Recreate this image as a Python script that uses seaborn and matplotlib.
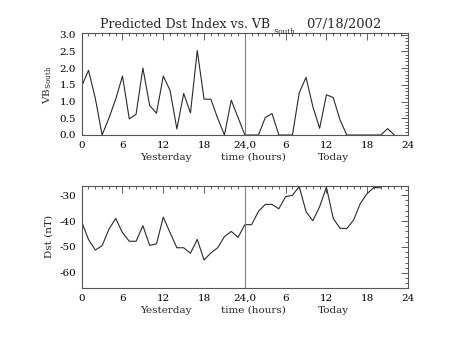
import numpy as np
import pandas as pd
import matplotlib
matplotlib.use("Agg")
import matplotlib.pyplot as plt
from matplotlib.ticker import MultipleLocator, FixedLocator
import seaborn as sns

# ---- data ----
vb_yesterday = [1.46, 1.93, 1.1, 0.0, 0.5, 1.07, 1.76, 0.48, 0.62, 2.0, 0.88, 0.65,
                1.76, 1.33, 0.18, 1.24, 0.66, 2.52, 1.07, 1.07, 0.5, 0.0, 1.04, 0.52]
vb_today = [0.0, 0.0, 0.0, 0.52, 0.64, 0.0, 0.0, 0.0, 1.26, 1.72, 0.85, 0.2,
            1.2, 1.12, 0.45, 0.0, 0.0, 0.0, 0.0, 0.0, 0.0, 0.19, 0.0]
dst_yesterday = [-40.3, -47.1, -51.2, -49.5, -43.2, -39.0, -44.5, -47.8, -47.8, -41.8,
                 -49.4, -48.8, -38.5, -44.5, -50.3, -50.3, -52.4, -47.1, -55.0, -52.3,
                 -50.3, -46.0, -44.0, -46.3]
dst_today = [-41.4, -41.4, -36.3, -33.6, -33.6, -35.3, -30.6, -30.1, -26.7, -36.4,
             -39.9, -34.5, -27.0, -39.0, -42.8, -42.9, -39.6, -33.2, -29.4, -27.1, -27.2]
xtick_pos = [0, 6, 12, 18, 24, 30, 36, 42, 48]
xtick_labels = ["0", "6", "12", "18", "24,0", "6", "12", "18", "24"]
title_main = "Predicted Dst Index vs. VB"
title_sub = "South"
date_text = "07/18/2002"

def series(yest, today):
    hrs = list(range(len(yest))) + [24 + i for i in range(len(today))]
    return pd.DataFrame({"hour": hrs, "value": list(yest) + list(today)})

vb_df = series(vb_yesterday, vb_today)
dst_df = series(dst_yesterday, dst_today)

sns.set_style("white")
plt.rcParams["font.family"] = ["DejaVu Serif"]
plt.rcParams["mathtext.fontset"] = "dejavuserif"

W, H = 453, 340
fig = plt.figure(figsize=(W / 100, H / 100), dpi=100)
fig.patch.set_facecolor("white")

def ax_rect(l, t, r, b):
    return [l / W, 1 - b / H, (r - l) / W, (b - t) / H]

ax1 = fig.add_axes(ax_rect(81.7, 33.5, 408, 135))
ax2 = fig.add_axes(ax_rect(81.7, 185.7, 408, 288))

FS = 7.5
line_col = "#2a2a2a"
for ax, df in ((ax1, vb_df), (ax2, dst_df)):
    sns.lineplot(data=df, x="hour", y="value", ax=ax, color=line_col, linewidth=0.8)
    ax.axvline(24, color="#808080", linewidth=0.8)
    ax.set_xlim(0, 48)
    ax.xaxis.set_major_locator(FixedLocator(xtick_pos))
    ax.set_xticklabels(xtick_labels)
    ax.xaxis.set_minor_locator(MultipleLocator(1))
    ax.tick_params(which="both", direction="in", top=True, right=True,
                   colors="#444444", labelcolor="black", labelsize=FS, width=0.6)
    ax.tick_params(which="major", length=5, pad=4)
    ax.tick_params(which="minor", length=2.5)
    for s in ax.spines.values():
        s.set_color("#555555")
        s.set_linewidth(0.8)
    ax.set_xlabel("")
    ax.set_ylabel("")
    ax.grid(False)

ax1.set_ylim(0, 3.03)
ax1.yaxis.set_major_locator(MultipleLocator(0.5))
ax1.yaxis.set_minor_locator(MultipleLocator(0.1))
ax1.yaxis.set_major_formatter(matplotlib.ticker.FormatStrFormatter("%.1f"))

ax2.set_ylim(-65.8, -26.4)
ax2.yaxis.set_major_locator(FixedLocator([-60, -50, -40, -30]))
ax2.yaxis.set_minor_locator(MultipleLocator(2))
ax2.yaxis.set_major_formatter(matplotlib.ticker.FuncFormatter(lambda v, p: "%d" % v))

ax1.set_ylabel(r"VB$_{\rm South}$", fontsize=FS, labelpad=4)
ax2.set_ylabel("Dst (nT)", fontsize=FS, labelpad=4)

for ax in (ax1, ax2):
    for xpos, txt in ((12.4, "Yesterday"), (25.2, "time (hours)"), (37.1, "Today")):
        ax.annotate(txt, xy=(xpos, 0), xycoords=("data", "axes fraction"),
                    xytext=(0, -16), textcoords="offset points",
                    ha="center", va="center", fontsize=FS)

# title pieces (pixel placement)
fig.text(100 / W, 1 - 28 / H, title_main, ha="left", va="baseline", fontsize=9.0)
fig.text(273 / W, 1 - 33.5 / H, title_sub, ha="left", va="baseline", fontsize=5.3)
fig.text(343.5 / W, 1 - 28 / H, date_text, ha="center", va="baseline", fontsize=9.4)

fig.savefig("out.png", dpi=100)
